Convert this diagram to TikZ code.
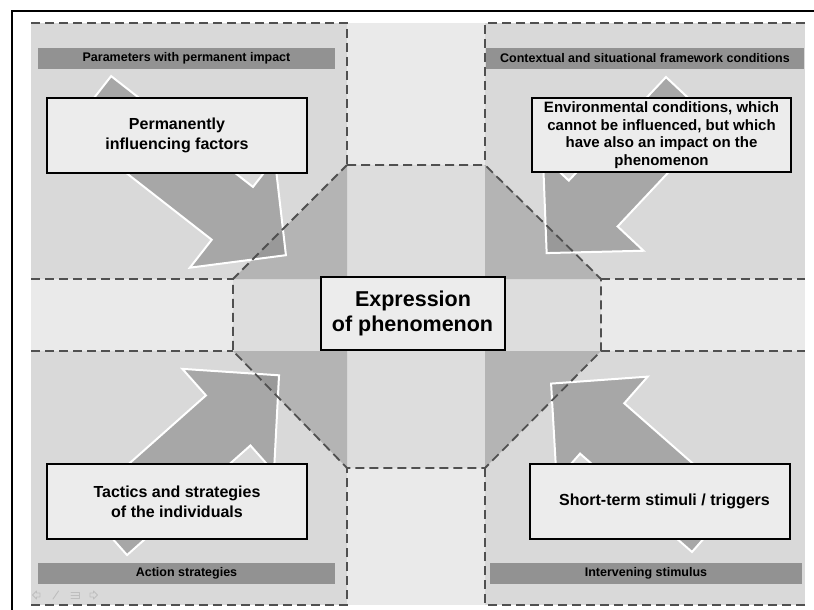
\documentclass[tikz,border=0pt]{standalone}
\usepackage{fontspec}
\setmainfont{Liberation Sans}

\definecolor{quadgray}{RGB}{217,217,217}
\definecolor{stripgray}{RGB}{234,234,234}
\definecolor{armgray}{RGB}{221,221,221}
\definecolor{cornergray}{RGB}{180,180,180}
\definecolor{arrowgray}{RGB}{135,135,135}
\definecolor{bargray}{RGB}{146,146,146}
\definecolor{boxfill}{RGB}{236,236,236}
\definecolor{dashgray}{RGB}{80,80,80}
\definecolor{navgray}{RGB}{190,190,190}

% block arrow: tail centre (#1,#2), direction #3 (degrees), shaft length #4
\newcommand{\blockarrow}[4]{%
  \begin{scope}[shift={(#1,#2)},rotate=#3]
    \path[arrowshape] (0,-33.5) -- (#4,-33.5) -- (#4,-69) -- ({#4+68},0)
      -- (#4,69) -- (#4,33.5) -- (0,33.5) -- cycle;
  \end{scope}}

\begin{document}
\begin{tikzpicture}[x=1pt,y=-1pt,
  arrowshape/.style={fill=arrowgray,fill opacity=0.6,draw=white,line width=2pt,line join=miter},
  dashline/.style={draw=dashgray,line width=1.8pt,dash pattern=on 9pt off 5pt},
  textbox/.style={draw=black,fill=boxfill,line width=2pt,align=center,inner sep=2pt,
    minimum width=260pt,minimum height=75pt,font=\fontsize{16}{20}\selectfont\bfseries},
  bar/.style={fill=bargray,inner sep=0pt,minimum height=21pt,
    font=\fontsize{12.5}{14}\selectfont\bfseries},
  nav/.style={draw=navgray,line width=0.9pt,line join=round,line cap=round},
  frameline/.style={draw=black,line width=2pt}]

\useasboundingbox (0,0) rectangle (814,610);
\fill[white] (0,0) rectangle (814,610);

% quadrants
\fill[quadgray] (31,23) rectangle (347,279);
\fill[quadgray] (485,23) rectangle (805,279);
\fill[quadgray] (31,351) rectangle (347,605);
\fill[quadgray] (485,351) rectangle (805,605);

% central cross strips
\fill[stripgray] (347,23) rectangle (485,605);
\fill[stripgray] (31,279) rectangle (805,351);

% octagon and its corner areas
\fill[armgray] (347,165) -- (485,165) -- (601,279) -- (601,351) -- (485,468)
  -- (347,468) -- (233,351) -- (233,279) -- cycle;
\fill[cornergray] (233,279) -- (347,165) -- (347,279) -- cycle;
\fill[cornergray] (485,165) -- (601,279) -- (485,279) -- cycle;
\fill[cornergray] (485,351) -- (601,351) -- (485,468) -- cycle;
\fill[cornergray] (233,351) -- (347,351) -- (347,468) -- cycle;

% influence arrows
\blockarrow{90.5}{102.5}{-38}{180}
\blockarrow{690.4}{100}{-133.2}{142}
\blockarrow{104.8}{530}{41.6}{165}
\blockarrow{714.1}{526.8}{138.7}{149}

% dashed borders
\draw[dashline] (31,23) -- (347,23) -- (347,165);
\draw[dashline] (805,23) -- (485,23) -- (485,165);
\draw[dashline] (31,605) -- (347,605) -- (347,468);
\draw[dashline] (805,605) -- (485,605) -- (485,468);
\draw[dashline] (31,279) -- (233,279);
\draw[dashline] (31,351) -- (233,351);
\draw[dashline] (601,279) -- (805,279);
\draw[dashline] (601,351) -- (805,351);
\draw[dashline] (347,165) -- (485,165) -- (601,279) -- (601,351) -- (485,468)
  -- (347,468) -- (233,351) -- (233,279) -- cycle;

% header bars
\node[bar,minimum width=297pt] (bartl) at (186.5,58.5) {Parameters with permanent impact};
\node[bar,minimum width=318pt] (bartr) at (645,58.5) {Contextual and situational framework conditions};
\node[bar,minimum width=297pt] (barbl) at (186.5,573.5) {Action strategies};
\node[bar,minimum width=312pt] (barbr) at (646,573.5) {Intervening stimulus};

% text boxes
\node[textbox] (boxtl) at (177,135.5) {Permanently\\influencing factors};
\node[textbox,minimum width=259pt,minimum height=74pt,
  font=\fontsize{15}{17.6}\selectfont\bfseries] (boxtr) at (661.5,135)
  {Environmental conditions, which\\cannot be influenced, but which\\have also an impact on the\\phenomenon};
\node[textbox] (boxbl) at (177,501.5) {Tactics and strategies\\of the individuals};
\node[textbox] (boxbr) at (660,501.5) {\hspace*{9pt}Short-term stimuli / triggers};
\node[textbox,minimum width=184pt,minimum height=73pt,
  font=\fontsize{21.5}{25}\selectfont\bfseries] (center) at (413,313.5)
  {Expression\\of phenomenon\hspace*{1pt}};

% small navigation marks
\draw[nav] (40,593) -- (36.5,593) -- (36.5,591) -- (32.5,595) -- (36.5,599) -- (36.5,597) -- (40,597) -- cycle;
\draw[nav] (53,599) -- (58.5,591);
\draw[nav] (71,592) -- (79,592) -- (79,598) -- (71,598);
\draw[nav] (71,595) -- (79,595);
\draw[nav] (90,593) -- (93.5,593) -- (93.5,591) -- (97.5,595) -- (93.5,599) -- (93.5,597) -- (90,597) -- cycle;

% outer frame (left and top edges)
\path[frameline] (11.5,610) -- (11.5,11.5) -- (814,11.5);

\end{tikzpicture}
\end{document}
